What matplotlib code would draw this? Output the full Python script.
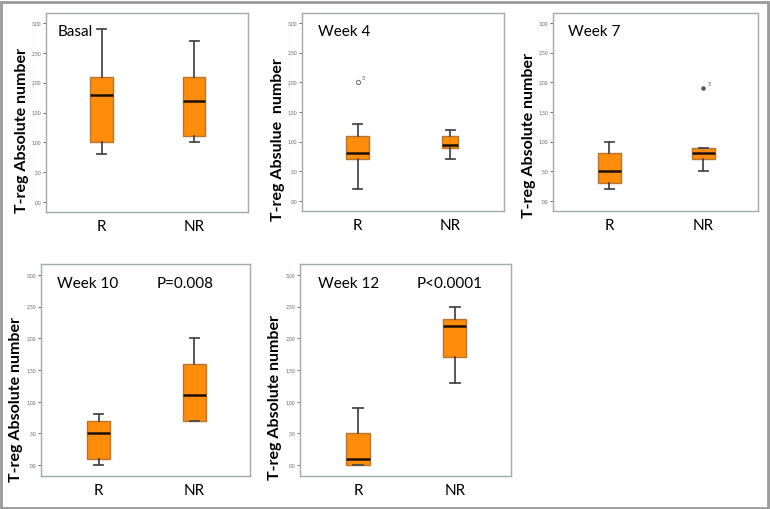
import matplotlib.pyplot as plt
from matplotlib.patches import Rectangle

plt.rcParams['font.family'] = ['Lato', 'DejaVu Sans']

groups = ['R', 'NR']
panels = ['Basal', 'Week 4', 'Week 7', 'Week 10', 'Week 12']
pvalues = ['', '', '', 'P=0.008', 'P<0.0001']
ylabels = ['T-reg Absolute number', 'T-reg Absulue  number', 'T-reg Absolute number',
           'T-reg Absolute number', 'T-reg Absolute number']

# (whislo, q1, med, q3, whishi) for R and NR
basal = [(0.8, 1.0, 1.8, 2.1, 2.9), (1.0, 1.1, 1.7, 2.1, 2.7)]
week4 = [(0.2, 0.7, 0.8, 1.1, 1.3), (0.7, 0.9, 0.95, 1.1, 1.2)]
week7 = [(0.2, 0.3, 0.5, 0.8, 1.0), (0.5, 0.7, 0.8, 0.9, 0.9)]
week10 = [(0.0, 0.1, 0.5, 0.7, 0.8), (0.7, 0.7, 1.1, 1.6, 2.0)]
week12 = [(0.0, 0.0, 0.1, 0.5, 0.9), (1.3, 1.7, 2.2, 2.3, 2.5)]
all_stats = [basal, week4, week7, week10, week12]

# outliers: (panel index, group index, value, case label, marker)
outliers = [(1, 0, 2.0, '3', 'o'), (2, 1, 1.9, '5', '*')]

yticks = [0, 0.5, 1.0, 1.5, 2.0, 2.5, 3.0]
ytick_labels = [',00', ',50', '1,00', '1,50', '2,00', '2,50', '3,00']

W, H = 770, 509
# axes boxes in pixels: left, top, right, bottom
boxes_px = [(46, 13, 248, 212), (302, 13, 504, 211), (553, 13, 758, 211),
            (41, 264, 250, 476), (300, 264, 511, 476)]
box_widths = [[0.24, 0.24], [0.24, 0.17], [0.24, 0.24], [0.24, 0.24], [0.24, 0.24]]
title_x = [0.06, 0.08, 0.075, 0.077, 0.085]
label_y = [0.41, 0.36, 0.38, 0.36, 0.37]

fig = plt.figure(figsize=(W / 100, H / 100), dpi=100)
fig.patches.append(Rectangle((0.001, 0.002), 0.996, 0.995, transform=fig.transFigure,
                             fill=False, edgecolor='#9a9a9a', linewidth=2))

for i, name in enumerate(panels):
    l, t, r, b = boxes_px[i]
    ax = fig.add_axes([l / W, 1 - b / H, (r - l) / W, (b - t) / H])
    stats = []
    for j, g in enumerate(groups):
        lo, q1, med, q3, hi = all_stats[i][j]
        stats.append({'whislo': lo, 'q1': q1, 'med': med, 'q3': q3, 'whishi': hi,
                      'fliers': [], 'label': g})
    ax.bxp(stats, positions=[1, 2], widths=box_widths[i], patch_artist=True,
           showfliers=False,
           boxprops=dict(facecolor='#ff8c0a', edgecolor='#b87530', linewidth=1),
           medianprops=dict(color='#1a1008', linewidth=1.8),
           whiskerprops=dict(color='#4a4a4a', linewidth=1.3),
           capprops=dict(color='#4a4a4a', linewidth=1.3),
           capwidths=0.1)
    for (pi, gi, val, lab, mk) in outliers:
        if pi == i:
            if mk == 'o':
                ax.plot(gi + 1, val, marker='o', ms=3, mfc='white', mec='#777777', mew=0.8)
            else:
                ax.plot(gi + 1, val, marker='o', ms=2.2, color='#445566')
            ax.text(gi + 1.04, val + 0.04, lab, fontsize=4, color='#555555')

    ax.set_xlim(0.4, 2.58)
    ax.set_ylim(-0.17, 3.17)
    ax.set_xticks([1, 2])
    ax.set_xticklabels(groups, fontsize=11)
    ax.tick_params(axis='x', length=0, pad=6)
    ax.set_yticks(yticks)
    ax.set_yticklabels(ytick_labels, fontsize=3.5, color='#666666')
    ax.tick_params(axis='y', length=2.5, width=0.6, color='#555555', pad=1)
    ax.set_ylabel(ylabels[i], fontsize=11.5, fontweight='bold',
                  family=['Liberation Sans Narrow', 'Lato', 'DejaVu Sans'])
    ax.yaxis.set_label_coords(-0.085, label_y[i])
    for s in ax.spines.values():
        s.set_color('#a3abab')
        s.set_linewidth(1)
    ax.text(title_x[i], 0.905, name, transform=ax.transAxes, fontsize=11, va='center')
    if pvalues[i]:
        ax.text(0.555, 0.905, pvalues[i], transform=ax.transAxes, fontsize=11, va='center')

fig.savefig('out.png', dpi=100)
